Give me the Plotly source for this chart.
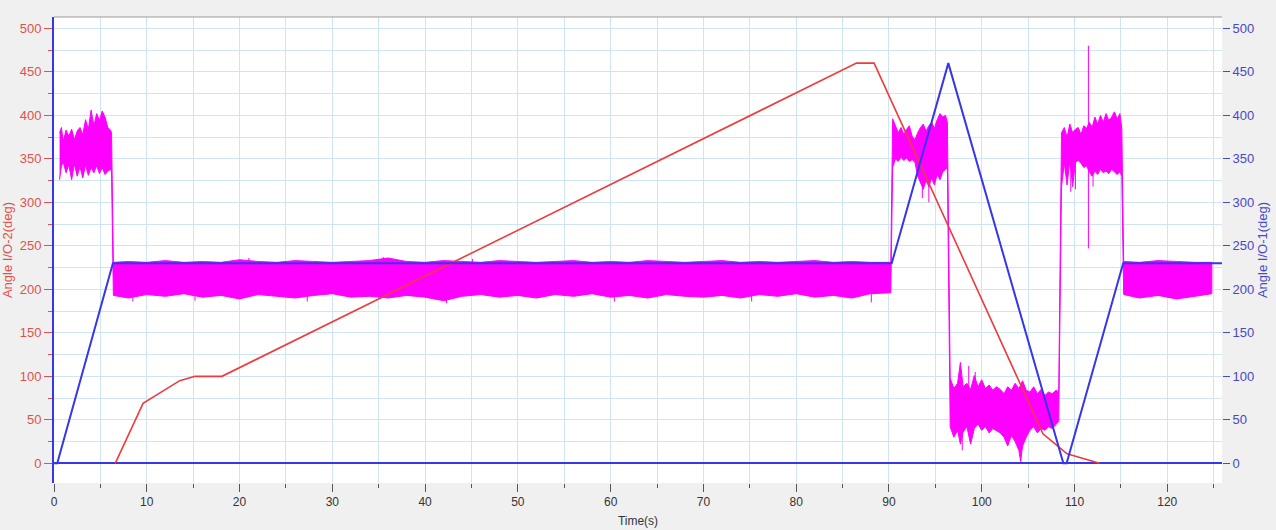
import plotly.graph_objects as go

# ---------------- data ----------------
# Red series: Angle I/O-2 (left axis)
red_t = [6.6, 9.6, 13.55, 15.2, 18.1, 86.5, 88.4, 104.4, 106.6, 109.2, 112.7]
red_v = [0, 69, 95, 100, 100, 460, 460, 85, 34, 11, 0]

# Blue series: Angle I/O-1 (right axis)
blue_t = [0, 0.35, 6.35, 90.3, 96.4, 108.8, 109.15, 115.25, 125.9]
blue_v = [0, 0, 230, 230, 460, 0, 0, 230, 230]

# Magenta noisy signal: upper / lower envelope of the band
mag_t = [
    0.6, 0.8, 1.0, 1.3, 1.6, 1.9, 2.2, 2.5, 2.8, 3.1, 3.4, 3.7, 4.0, 4.3, 4.6, 4.9, 5.2, 5.5, 5.8, 6.1, 6.2,
    6.4, 8, 10, 12, 14, 16, 18, 20, 22, 24, 26, 28, 30, 32, 34, 36, 38, 40, 42, 44, 46, 48, 50, 52, 54,
    56, 58, 60, 62, 64, 66, 68, 70, 72, 74, 76, 78, 80, 82, 84, 86, 88, 90.2,
    90.4, 90.7, 91.0, 91.3, 91.6, 91.9, 92.2, 92.5, 92.8, 93.1, 93.4, 93.7, 94.0, 94.3, 94.6, 94.9,
    95.2, 95.5, 95.8, 96.1, 96.3,
    96.6, 97.0, 97.4, 97.7, 98.0, 98.4, 98.8, 99.2, 99.6, 100.0, 100.4, 100.8, 101.2, 101.6, 102.0,
    102.4, 102.8, 103.2, 103.6, 104.0, 104.2, 104.4, 104.8, 105.2, 105.6, 106.0, 106.4, 106.8, 107.2,
    107.6, 108.0, 108.3,
    108.6, 108.9, 109.2, 109.5, 109.8, 110.1, 110.4, 110.7, 111.0, 111.3, 111.6, 111.9, 112.2, 112.5,
    112.8, 113.1, 113.4, 113.7, 114.0, 114.3, 114.6, 114.9, 115.1,
    115.3, 117, 119, 121, 123, 124.8,
]
mag_hi = [
    380, 386, 370, 383, 376, 384, 372, 382, 386, 378, 395, 384, 406, 388, 402, 394, 405, 398, 386, 383, 380,
    231, 232, 231, 233, 231, 232, 231, 234, 232, 231, 233, 232, 231, 232, 233, 236, 232, 231, 233, 232,
    231, 233, 232, 231, 232, 233, 231, 232, 231, 233, 232, 231, 232, 233, 231, 232, 231, 232, 233, 231,
    232, 231, 231,
    396, 388, 380, 386, 378, 384, 388, 376, 372, 380, 386, 390, 382, 388, 392, 385,
    395, 402, 398, 400, 392,
    98, 86, 92, 116, 88, 92, 85, 101, 88, 96, 86, 90, 84, 88, 85,
    80, 88, 84, 92, 86, 90, 95, 84, 82, 88, 80, 85, 78, 82,
    80, 84, 82,
    380, 386, 375, 390, 380, 384, 386, 378, 388, 385, 392, 386, 398, 390,
    400, 392, 402, 394, 398, 404, 396, 402, 385,
    232, 231, 233, 232, 231, 231,
]
mag_lo = [
    326, 342, 346, 334, 343, 326, 344, 330, 341, 328, 343, 331, 340, 334, 342, 333, 340, 332, 336, 338, 335,
    193, 190, 194, 192, 195, 191, 193, 189, 194, 192, 190, 193, 195, 191, 192, 190, 193, 191, 187, 192,
    194, 191, 193, 190, 194, 192, 195, 191, 193, 190, 194, 192, 191, 193, 190, 194, 192, 195, 191, 193,
    190, 195, 196,
    340, 350, 347, 352, 348, 351, 347, 349, 346, 330, 322, 315, 325, 318, 328, 320,
    332, 326, 335, 338, 340,
    42, 30, 38, 22, 36, 42, 22, 40, 45, 38, 42, 35, 40, 38, 35,
    30, 20, 32, 25, 15, 2, 20, 30, 38, 42, 35, 40, 38, 42,
    40, 45, 48,
    318, 345, 320, 348, 318, 346, 348, 345, 340, 342, 335, 330, 336, 332,
    338, 334, 336, 333, 338, 335, 332, 335, 330,
    194, 190, 193, 189, 192, 195,
]

# Isolated magenta spikes (time, low, high)
spike_t = [8.5, 15.2, 21.0, 27.3, 35.5, 42.3, 45.1, 60.4, 75.2, 88.1,
           93.6, 94.3, 97.9, 98.6, 99.3, 109.6, 110.1, 111.5, 112.0]
spike_lo = [186, 187, 195, 186, 195, 184, 195, 186, 186, 185,
            305, 300, 15, 70, 60, 312, 315, 247, 318]
spike_hi = [231, 231, 236, 231, 237, 231, 235, 231, 231, 231,
            330, 325, 50, 112, 105, 350, 350, 480, 340]

x_ticks = list(range(0, 130, 10))
y_ticks = list(range(0, 550, 50))

# ---------------- figure ----------------
RED = "#ee3b3b"
RED_TXT = "#e2504c"
BLUE = "#3636ea"
BLUE_TXT = "#4747c8"
MAG = "#ff00ff"
GRID = "#cfe6f2"
FONT = "Liberation Sans"

fig = go.Figure()

poly_x = mag_t + mag_t[::-1]
poly_y = mag_hi + mag_lo[::-1]
fig.add_trace(go.Scatter(x=poly_x, y=poly_y, mode="lines", fill="toself",
                         fillcolor=MAG, line=dict(color=MAG, width=1),
                         hoverinfo="skip", yaxis="y"))

sx, sy = [], []
for t, lo, hi in zip(spike_t, spike_lo, spike_hi):
    sx += [t, t, None]
    sy += [lo, hi, None]
fig.add_trace(go.Scatter(x=sx, y=sy, mode="lines", line=dict(color=MAG, width=1),
                         hoverinfo="skip", yaxis="y"))

fig.add_trace(go.Scatter(x=red_t, y=red_v, mode="lines", line=dict(color=RED, width=1.6),
                         name="Angle I/O-2", yaxis="y"))
fig.add_trace(go.Scatter(x=blue_t, y=blue_v, mode="lines", line=dict(color=BLUE, width=2),
                         name="Angle I/O-1", yaxis="y2"))

yr = [-22.6, 513]

fig.update_layout(
    width=1276, height=530,
    margin=dict(l=54, r=54, t=17, b=47),
    paper_bgcolor="#f0f0f0", plot_bgcolor="white",
    showlegend=False,
    font=dict(family=FONT, size=12, color="#333"),
    xaxis=dict(
        range=[0, 125.9], tickvals=x_ticks, ticks="outside", ticklen=8, tickcolor="#555",
        tickfont=dict(size=12, color="#333"), showgrid=True, gridcolor=GRID, gridwidth=1,
        minor=dict(dtick=5, tick0=0, ticks="outside", ticklen=4, tickcolor="#555",
                   showgrid=True, gridcolor=GRID, gridwidth=1),
        zeroline=False, showline=False, automargin=False,
        title=dict(text="Time(s)", font=dict(size=12, color="#333"), standoff=8),
    ),
    yaxis=dict(
        range=yr, tickvals=y_ticks, ticks="outside", ticklen=8, tickcolor=RED_TXT,
        tickfont=dict(size=13, color=RED_TXT), showgrid=True, gridcolor=GRID, gridwidth=1,
        minor=dict(dtick=25, tick0=0, ticks="outside", ticklen=4, tickcolor=RED_TXT,
                   showgrid=True, gridcolor=GRID, gridwidth=1),
        zeroline=True, zerolinecolor=BLUE, zerolinewidth=2,
        showline=True, linecolor=BLUE, linewidth=2, automargin=False,
        title=dict(text="Angle I/O-2(deg)", font=dict(size=13, color=RED_TXT), standoff=4),
    ),
    yaxis2=dict(
        range=yr, overlaying="y", side="right", tickvals=y_ticks, ticks="outside", ticklen=7,
        tickcolor=BLUE_TXT, tickfont=dict(size=13, color=BLUE_TXT), showgrid=False,
        zeroline=False, showline=False, automargin=False,
        title=dict(text="Angle I/O-1(deg)", font=dict(size=13, color=BLUE_TXT), standoff=4),
    ),
    shapes=[dict(type="line", xref="paper", yref="paper", x0=0, x1=1, y0=1, y1=1,
                 line=dict(color="#9a9a9a", width=1))],
)

fig.write_html("out.html")
